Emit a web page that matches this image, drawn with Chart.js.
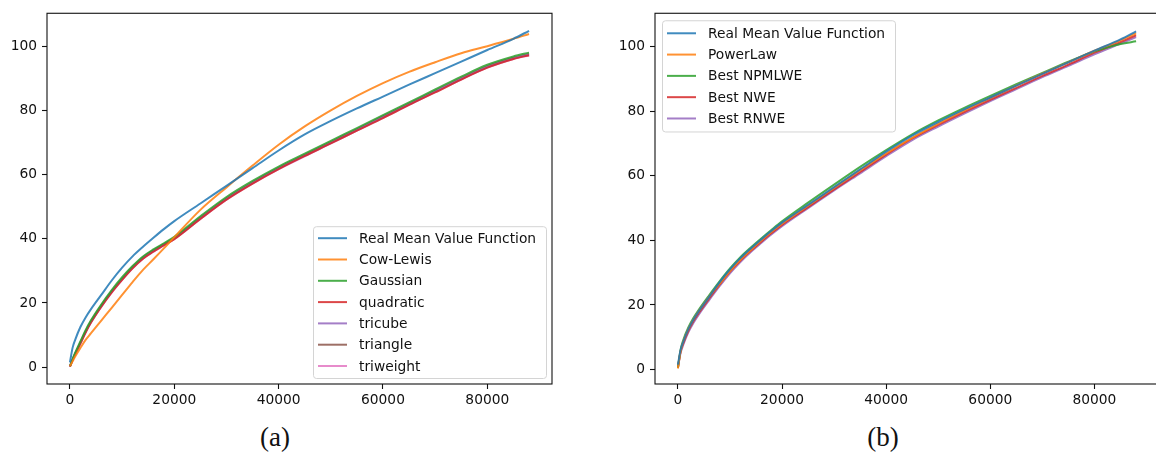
<!DOCTYPE html>
<html>
<head>
<meta charset="utf-8">
<script src="https://cdn.jsdelivr.net/npm/chart.js@4.4.1/dist/chart.umd.min.js"></script>
<style>
  html, body { margin: 0; padding: 0; background: #fff; overflow: hidden; }
  body { width: 1156px; height: 454px; position: relative; }
  canvas { position: absolute; top: 0; }
  #chartA { left: 0; }
  #chartB { left: 608px; }
  .cap { position: absolute; top: 421px; width: 80px; text-align: center;
         font-family: "Liberation Serif", serif; font-size: 27px; line-height: 32px; color: #111; }
</style>
</head>
<body>
<canvas id="chartA" width="570" height="420"></canvas>
<canvas id="chartB" width="562" height="420"></canvas>
<div class="cap" style="left:235px">(a)</div>
<div class="cap" style="left:843px">(b)</div>
<script>
// x positions (number of events) where the curves were read
var xPts = [0, 500, 1000, 2000, 3000, 4000, 6000, 8000, 10000, 12000, 14000, 16000, 18000, 20000,
            25000, 30000, 35000, 40000, 45000, 50000, 55000, 60000, 65000, 70000, 75000, 80000, 85000, 88000];

// (a) real mean value function vs Cow-Lewis and kernel estimates
var realMean  = [1.5, 6, 8.5, 12.5, 15.5, 18, 22.5, 27, 31, 34.5, 37.5, 40.3, 43, 45.5,
                 51, 56.5, 62, 67.5, 72.5, 76.7, 80.6, 84.3, 88, 91.6, 95.2, 98.8, 102.3, 104.8];
var cowLewis  = [0.3, 1.8, 3.3, 6, 8.5, 10.5, 14.5, 18.5, 22.5, 26.5, 30.3, 33.6, 37, 40.5,
                 49, 56, 62.8, 69.3, 75, 80, 84.5, 88.5, 92, 95, 97.8, 100, 102.3, 103.8];
var gaussian  = [0.3, 2.5, 4.5, 8, 11.5, 14.5, 19.5, 24, 28, 31.5, 34.5, 36.7, 38.6, 40.6,
                 47, 53, 58, 62.5, 66.5, 70.5, 74.5, 78.5, 82.5, 86.5, 90.5, 94.2, 96.8, 98];
var quadratic = [0.2, 2.2, 4, 7.4, 10.8, 13.8, 18.8, 23.3, 27.2, 30.8, 33.8, 36, 38, 39.9,
                 46.2, 52.2, 57.2, 61.7, 65.8, 69.7, 73.7, 77.6, 81.7, 85.6, 89.6, 93.3, 96, 97.2];
var tricube   = [0.2, 2.3, 4.1, 7.5, 11, 14, 19, 23.5, 27.4, 31, 34, 36.2, 38.1, 40.1,
                 46.4, 52.4, 57.4, 61.9, 65.9, 69.9, 73.9, 77.9, 81.9, 85.9, 89.8, 93.5, 96.2, 97.4];
var triangle  = [0.2, 2.4, 4.2, 7.7, 11.2, 14.2, 19.2, 23.7, 27.6, 31.2, 34.2, 36.4, 38.3, 40.3,
                 46.6, 52.6, 57.6, 62.1, 66.1, 70.1, 74.1, 78.1, 82.1, 86.1, 90, 93.8, 96.4, 97.6];
var triweight = [0.2, 2.2, 4, 7.3, 10.8, 13.8, 18.8, 23.2, 27.2, 30.8, 33.8, 36, 37.9, 39.9,
                 46.2, 52.2, 57.2, 61.7, 65.7, 69.7, 73.7, 77.7, 81.7, 85.7, 89.6, 93.3, 96, 97.1];

// (b) real mean value function vs power law and best nonparametric estimates
var powerLaw   = [0.3, 5.5, 8.5, 12.5, 15.5, 18, 22.5, 26.5, 30.5, 34, 37, 40, 42.7, 45.2,
                  50.8, 56.3, 61.8, 67, 71.8, 76.2, 80.3, 84.2, 88, 91.7, 95.2, 98.8, 102, 104.2];
var bestNPMLWE = [0.5, 6, 9, 13, 16, 18.5, 23, 27.3, 31.3, 34.8, 37.8, 40.6, 43.3, 45.9,
                  51.7, 57.3, 62.8, 68, 72.9, 77.2, 81.1, 84.8, 88.4, 91.9, 95.4, 98.6, 100.9, 101.7];
var bestNWE    = [0.5, 5.5, 8, 12, 15, 17.5, 22, 26.3, 30.3, 33.8, 36.8, 39.6, 42.3, 44.8,
                  50.3, 55.8, 61.2, 66.6, 71.6, 75.8, 79.8, 83.6, 87.3, 91, 94.5, 98.2, 101.5, 103.6];
var bestRNWE   = [0.5, 5, 7.5, 11.5, 14.5, 17, 21.5, 25.8, 29.8, 33.3, 36.4, 39.2, 41.9, 44.4,
                  50, 55.5, 60.8, 66.1, 71.1, 75.3, 79.3, 83.2, 86.9, 90.6, 94.1, 97.7, 101, 103];

var xTicks = [0, 20000, 40000, 60000, 80000];
var yTicks = [0, 20, 40, 60, 80, 100];

function toPoints(ys) {
    return xPts.map(function (x, i) { return { x: x, y: ys[i] }; });
}

function series(label, ys, color) {
    return {
        label: label,
        data: toPoints(ys),
        borderColor: color,
        backgroundColor: color,
        borderWidth: 2,
        pointRadius: 0,
        showLine: true,
        fill: false,
        cubicInterpolationMode: 'monotone'
    };
}

// full box around the plot, like matplotlib spines
var frameBox = {
    id: 'frameBox',
    afterDraw(chart) {
        var c = chart.ctx, a = chart.chartArea;
        c.save();
        c.strokeStyle = '#111';
        c.lineWidth = 1.1;
        c.strokeRect(a.left, a.top, a.right - a.left, a.bottom - a.top);
        c.restore();
    }
};

// legend inside the axes with a rounded light frame
var boxLegend = {
    id: 'boxLegend',
    afterDatasetsDraw(chart, args, opts) {
        var c = chart.ctx, a = chart.chartArea;
        var sets = chart.data.datasets;
        var h = opts.padY * 2 + (sets.length - 1) * opts.rowH;
        var x0 = opts.corner === 'br' ? a.right - opts.inset - opts.width : a.left + opts.inset;
        var y0 = opts.corner === 'br' ? a.bottom - opts.inset - h : a.top + opts.inset;
        c.save();
        c.beginPath();
        c.roundRect(x0 + 0.5, y0 + 0.5, opts.width, h, 3);
        c.fillStyle = 'rgba(255,255,255,0.85)';
        c.fill();
        c.strokeStyle = '#d4d4d4';
        c.lineWidth = 1;
        c.stroke();
        c.font = '13.8px "DejaVu Sans"';
        c.textBaseline = 'middle';
        sets.forEach(function (ds, i) {
            var y = y0 + opts.padY + i * opts.rowH;
            c.beginPath();
            c.moveTo(x0 + 5, y);
            c.lineTo(x0 + 34, y);
            c.strokeStyle = ds.borderColor;
            c.lineWidth = 2;
            c.stroke();
            c.fillStyle = '#111';
            c.fillText(ds.label, x0 + 46, y + 1);
        });
        c.restore();
    }
};

function baseOptions(padTop, padRight, legendOpts) {
    var tickFont = { family: 'DejaVu Sans', size: 13.8 };
    return {
        responsive: false,
        animation: false,
        layout: { padding: { top: padTop, right: padRight, left: 0, bottom: 0 } },
        plugins: {
            legend: { display: false },
            tooltip: { enabled: false },
            boxLegend: legendOpts
        },
        scales: {
            x: {
                type: 'linear',
                min: -4400,
                max: 92400,
                afterBuildTicks: function (s) { s.ticks = xTicks.map(function (v) { return { value: v }; }); },
                afterFit: function (s) { s.height = 36; },
                grid: { drawOnChartArea: false, color: '#111', tickLength: 5, tickWidth: 1.1 },
                border: { display: false },
                ticks: { color: '#111', font: tickFont, padding: 3, maxRotation: 0,
                         callback: function (v) { return String(v); } }
            },
            y: {
                type: 'linear',
                min: -5.25,
                max: 110.25,
                afterBuildTicks: function (s) { s.ticks = yTicks.map(function (v) { return { value: v }; }); },
                afterFit: function (s) { s.width = 47; },
                grid: { drawOnChartArea: false, color: '#111', tickLength: 5, tickWidth: 1.1 },
                border: { display: false },
                ticks: { color: '#111', font: tickFont, padding: 5 }
            }
        }
    };
}

// *** chart (a) ***
var ctxA = document.getElementById('chartA').getContext('2d');
var chartA = new Chart(ctxA, {
    type: 'scatter',
    data: {
        datasets: [
            series('Real Mean Value Function', realMean, 'rgba(31,119,180,0.85)'),
            series('Cow-Lewis', cowLewis, 'rgba(255,127,14,0.85)'),
            series('Gaussian', gaussian, 'rgba(44,160,44,0.85)'),
            series('quadratic', quadratic, 'rgba(214,39,40,0.85)'),
            series('tricube', tricube, 'rgba(148,103,189,0.85)'),
            series('triangle', triangle, 'rgba(140,86,75,0.85)'),
            series('triweight', triweight, 'rgba(227,119,194,0.85)')
        ]
    },
    options: baseOptions(9, 18, { corner: 'br', inset: 6, width: 233, padY: 12, rowH: 21.3 }),
    plugins: [frameBox, boxLegend]
});

// *** chart (b) ***
var ctxB = document.getElementById('chartB').getContext('2d');
var optsB = baseOptions(10, 11, { corner: 'tl', inset: 7, width: 233, padY: 13, rowH: 21.3 });
optsB.scales.y.min = -4.5;
optsB.scales.y.max = 110.4;
var chartB = new Chart(ctxB, {
    type: 'scatter',
    data: {
        datasets: [
            series('Real Mean Value Function', realMean, 'rgba(31,119,180,0.85)'),
            series('PowerLaw', powerLaw, 'rgba(255,127,14,0.85)'),
            series('Best NPMLWE', bestNPMLWE, 'rgba(44,160,44,0.85)'),
            series('Best NWE', bestNWE, 'rgba(214,39,40,0.85)'),
            series('Best RNWE', bestRNWE, 'rgba(148,103,189,0.85)')
        ]
    },
    options: optsB,
    plugins: [frameBox, boxLegend]
});
</script>
</body>
</html>
